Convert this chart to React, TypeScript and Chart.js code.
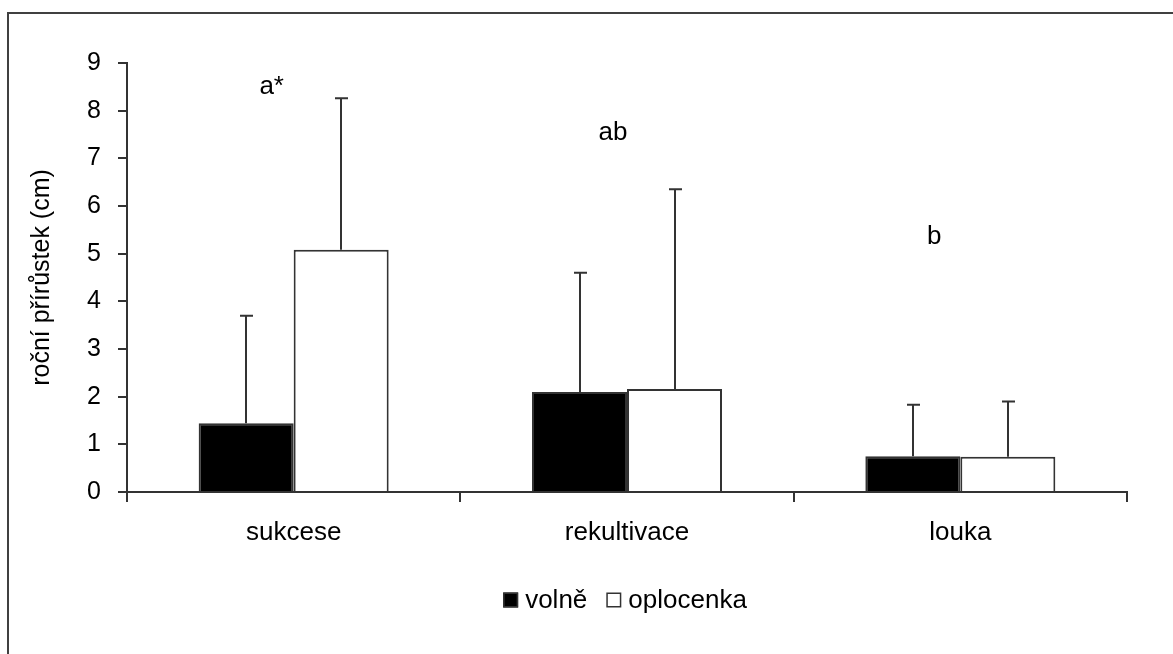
import React, { useEffect, useRef } from "react";
import { Chart, registerables } from "chart.js";

Chart.register(...registerables);

const categories = ["sukcese", "rekultivace", "louka"];
const seriesNames = ["volně", "oplocenka"];
const volneValues = [1.44, 2.1, 0.75];
const volneErrors = [2.26, 2.5, 1.08];
const oplocenkaValues = [5.08, 2.16, 0.74];
const oplocenkaErrors = [3.18, 4.19, 1.16];
const yTicks = [0, 1, 2, 3, 4, 5, 6, 7, 8, 9];
const annotationTexts = ["a*", "ab", "b"];
const annotationCategory = [-0.066, 0.958, 1.922];
const annotationValues = [8.5, 7.53, 5.35];

const FONT = "'Liberation Sans', Arial, sans-serif";
const LINE = "#333333";

export default function App() {
  const ref = useRef<HTMLCanvasElement | null>(null);

  useEffect(() => {
    if (!ref.current) return;
    const errs = [volneErrors, oplocenkaErrors];

    const framePlugin = {
      id: "frame",
      beforeDraw(chart: any) {
        const ctx = chart.ctx;
        ctx.save();
        ctx.fillStyle = "#fff";
        ctx.fillRect(0, 0, chart.width, chart.height);
        ctx.strokeStyle = "#404040";
        ctx.lineWidth = 2;
        ctx.beginPath();
        ctx.moveTo(8, chart.height);
        ctx.lineTo(8, 13);
        ctx.lineTo(chart.width, 13);
        ctx.stroke();
        ctx.restore();
      },
    };

    const errorPlugin = {
      id: "errorbars",
      afterDatasetsDraw(chart: any) {
        const ctx = chart.ctx;
        const y = chart.scales.y;
        ctx.save();
        ctx.strokeStyle = LINE;
        ctx.lineWidth = 2;
        chart.data.datasets.forEach((ds: any, di: number) => {
          const meta = chart.getDatasetMeta(di);
          meta.data.forEach((bar: any, i: number) => {
            const v = ds.data[i];
            const top = y.getPixelForValue(v + errs[di][i]);
            const x = Math.round(bar.x);
            ctx.beginPath();
            ctx.moveTo(x, bar.y);
            ctx.lineTo(x, top);
            ctx.moveTo(x - 6, top);
            ctx.lineTo(x + 7, top);
            ctx.stroke();
          });
        });
        ctx.restore();
      },
    };

    const textPlugin = {
      id: "texts",
      afterDraw(chart: any) {
        const ctx = chart.ctx;
        const xs = chart.scales.x;
        const ys = chart.scales.y;
        ctx.save();
        ctx.fillStyle = "#000";
        ctx.font = `26px ${FONT}`;
        ctx.textAlign = "center";
        ctx.textBaseline = "middle";
        annotationTexts.forEach((t, i) => {
          ctx.fillText(t, xs.getPixelForValue(annotationCategory[i]), ys.getPixelForValue(annotationValues[i]));
        });
        // legend
        const box = 15;
        const gapBox = 7;
        const gapItem = 19;
        ctx.font = `26px ${FONT}`;
        const items = chart.data.datasets.map((ds: any) => ({
          label: ds.label,
          fill: ds.backgroundColor,
          w: ctx.measureText(ds.label).width,
        }));
        const total = items.reduce((s: number, it: any, i: number) => s + box + gapBox + it.w + (i > 0 ? gapItem : 0), 0);
        let x = (chart.chartArea.left + chart.chartArea.right) / 2 - 2 - total / 2;
        const cy = 600;
        ctx.textAlign = "left";
        items.forEach((it: any, i: number) => {
          if (i > 0) x += gapItem;
          ctx.fillStyle = it.fill;
          ctx.fillRect(x, cy - box / 2, box, box);
          ctx.strokeStyle = LINE;
          ctx.lineWidth = 1.5;
          ctx.strokeRect(x + 0.75, cy - box / 2 + 0.75, box - 1.5, box - 1.5);
          x += box + gapBox;
          ctx.fillStyle = "#000";
          ctx.fillText(it.label, x, cy + 1);
          x += it.w;
        });
        ctx.restore();
      },
    };

    const chart = new Chart(ref.current, {
      type: "bar",
      data: {
        labels: categories,
        datasets: [
          {
            label: seriesNames[0],
            data: volneValues,
            backgroundColor: "#000000",
            borderColor: LINE,
            borderWidth: 2,
            barPercentage: 1,
            categoryPercentage: 0.57,
          },
          {
            label: seriesNames[1],
            data: oplocenkaValues,
            backgroundColor: "#ffffff",
            borderColor: LINE,
            borderWidth: 2,
            barPercentage: 1,
            categoryPercentage: 0.57,
          },
        ],
      },
      options: {
        responsive: false,
        animation: false,
        devicePixelRatio: 1,
        layout: { padding: { left: 0, top: 63, right: 46, bottom: 0 } },
        plugins: {
          legend: { display: false },
          tooltip: { enabled: false },
          title: { display: false },
        },
        scales: {
          x: {
            afterFit: (s: any) => {
              s.height = 162;
            },
            grid: {
              display: true,
              offset: true,
              drawOnChartArea: false,
              drawTicks: true,
              tickLength: 10,
              color: LINE,
              lineWidth: 2,
            },
            border: { display: true, color: LINE, width: 2 },
            ticks: {
              color: "#000",
              font: { family: FONT, size: 26 },
              padding: 15,
              maxRotation: 0,
            },
          },
          y: {
            min: 0,
            max: 9,
            afterFit: (s: any) => {
              s.width = 127;
            },
            afterBuildTicks: (s: any) => {
              s.ticks = yTicks.map((v) => ({ value: v }));
            },
            grid: {
              display: true,
              drawOnChartArea: false,
              drawTicks: true,
              tickLength: 9,
              color: LINE,
              lineWidth: 2,
            },
            border: { display: true, color: LINE, width: 2 },
            ticks: {
              color: "#000",
              font: { family: FONT, size: 25 },
              padding: 17,
              stepSize: 1,
            },
            title: {
              display: true,
              text: "roční přírůstek (cm)",
              color: "#000",
              font: { family: FONT, size: 25 },
              padding: { top: 27, bottom: 0 },
            },
          },
        },
      },
      plugins: [framePlugin, errorPlugin, textPlugin],
    });
    return () => chart.destroy();
  }, []);

  return (
    <div style={{ position: "fixed", left: 0, top: 0, width: 1173, height: 654, background: "#fff" }}>
      <canvas ref={ref} width={1173} height={654} style={{ display: "block" }} />
    </div>
  );
}
